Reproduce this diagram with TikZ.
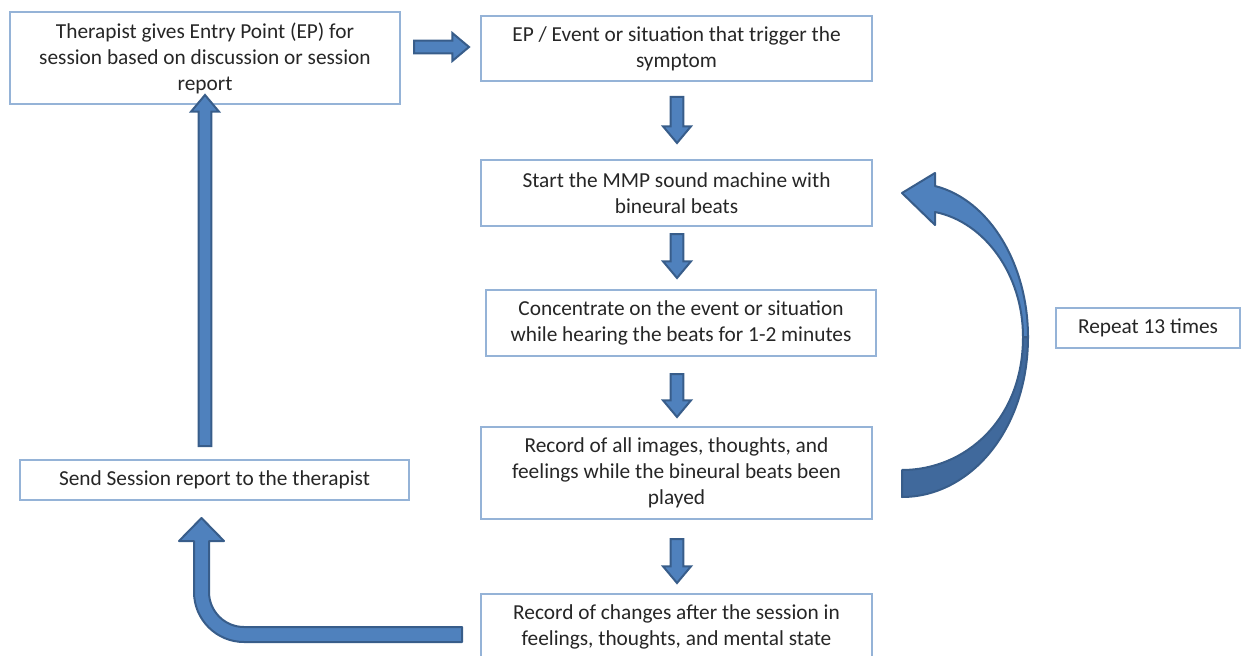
\documentclass[tikz,border=0pt]{standalone}
\usepackage{fontspec}
\setmainfont{Carlito}
\usetikzlibrary{shapes.arrows}

\definecolor{boxline}{RGB}{149,179,215}
\definecolor{arrowfill}{RGB}{79,129,189}
\definecolor{arrowdark}{RGB}{64,105,156}
\definecolor{arrowline}{RGB}{56,93,138}

\tikzset{every picture/.style={line width=0.75pt}}
\tikzset{
  stepbox/.style={draw=boxline, line width=1pt, fill=white, inner sep=0pt, align=center,
    text=black!85, font=\fontsize{16}{19.5}\selectfont},
  blockarrow/.style={single arrow, draw=arrowline, fill=arrowfill, line width=1.5pt,
    inner xsep=0pt, inner ysep=4.1pt, single arrow head extend=5.6pt,
    single arrow tip angle=80, anchor=tail},
  bentshape/.style={draw=arrowline, fill=arrowfill, line width=1.5pt, line join=round}
}

\begin{document}
\begin{tikzpicture}[x=0.75pt,y=0.75pt,yscale=-1,xscale=1]
\useasboundingbox (0,0) rectangle (1241,656);

% Text Node
\node[stepbox, minimum width=292.5pt, minimum height=69pt] (ther) at (205,58) {Therapist gives Entry Point (EP) for\\session based on discussion or session\\report};
% Text Node
\node[stepbox, minimum width=293.25pt, minimum height=48.75pt] (ep) at (676.5,48.5) {EP / Event or situation that trigger the\\symptom};
% Text Node
\node[stepbox, minimum width=293.25pt, minimum height=49.5pt] (mmp) at (676.5,193) {Start the MMP sound machine with\\bineural beats};
% Text Node
\node[stepbox, minimum width=292.5pt, minimum height=49.5pt] (conc) at (681,323) {Concentrate on the event or situation\\while hearing the beats for 1-2 minutes};
% Text Node
\node[stepbox, minimum width=293.25pt, minimum height=69pt] (rec) at (676.5,473) {Record of all images, thoughts, and\\feelings while the bineural beats been\\played};
% Text Node
\node[stepbox, minimum width=293.25pt, minimum height=49.5pt] (chg) at (676.5,627) {Record of changes after the session in\\feelings, thoughts, and mental state};
% Text Node
\node[stepbox, minimum width=291.75pt, minimum height=30pt] (send) at (214.5,480) {Send Session report to the therapist};
% Text Node
\node[stepbox, minimum width=138pt, minimum height=30pt] (rep) at (1148,328) {Repeat 13 times};

%Block Arrows
\node[blockarrow, minimum height=41.25pt] (ra) at (413,47) {};
\node[blockarrow, rotate=-90, minimum height=34.5pt] (da1) at (677,96) {};
\node[blockarrow, rotate=-90, minimum height=33pt] (da2) at (677,233) {};
\node[blockarrow, rotate=-90, minimum height=32.25pt] (da3) at (677,373) {};
\node[blockarrow, rotate=-90, minimum height=33pt] (da4) at (677,538) {};
\node[blockarrow, rotate=90, minimum height=263.25pt] (ua) at (205,447) {};

%Shape: Bent Up Arrow
\draw[bentshape] (462,627) -- (244,627) .. controls (224.7,627) and (209,611.3) .. (209,592) -- (209,541) -- (224,541) -- (201.5,518) -- (179,541) -- (194,541) -- (194,592) .. controls (194,619.6) and (216.4,642) .. (244,642) -- (462,642) -- cycle ;

%Shape: Curved Arrow, lower part
\draw[bentshape, fill=arrowdark] (1028,337) .. controls (1028,430) and (970,497) .. (902,497) -- (902,470) .. controls (965,470) and (1023,420) .. (1023,337) -- cycle ;
%Shape: Curved Arrow, upper part
\draw[bentshape] (935,186) .. controls (990,200) and (1028,265) .. (1028,337) -- (1023,337) .. controls (1023,275) and (985,222) .. (935,212) -- (935,225) -- (902,193) -- (935,173) -- cycle ;

\end{tikzpicture}
\end{document}
